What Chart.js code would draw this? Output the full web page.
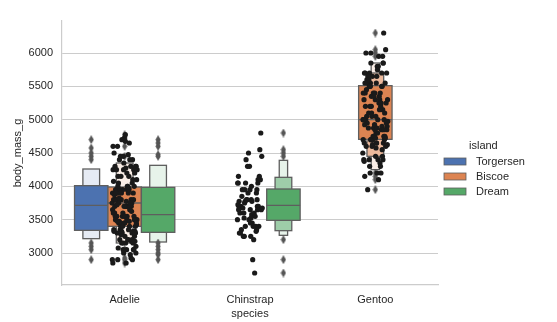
<!DOCTYPE html>
<html>
<head>
<meta charset="utf-8">
<script src="https://cdn.jsdelivr.net/npm/chart.js@4.4.1/dist/chart.umd.min.js"></script>
<style>
  html, body { margin: 0; padding: 0; background: #fff; }
  #wrap { width: 557px; height: 322px; }
</style>
</head>
<body>
<div id="wrap"><canvas id="chart" width="557" height="322"></canvas></div>
<script>
const species = ["Adelie", "Chinstrap", "Gentoo"];
const islands = ["Torgersen", "Biscoe", "Dream"];
const islandColors = ["#4c72b0", "#dd8452", "#55a868"];
const yTicks = [3000, 3500, 4000, 4500, 5000, 5500, 6000];

// body mass of every penguin, by species (strip points)
const adelieMass = [3750, 3800, 3250, 3450, 3650, 3625, 4675, 3475, 4250, 3300, 3700, 3200, 3800, 4400, 3700, 3450, 4500, 3325, 4200,
  3400, 3600, 3800, 3950, 3800, 3800, 3550, 3200, 3150, 3950, 3250, 3900, 3300, 3900, 3325, 4150, 3950, 3550, 3300, 4650,
  3150, 3900, 3100, 4400, 3000, 4600, 3425, 2975, 3450, 4150, 3500, 4300, 3450, 4050, 2900, 3700, 3550, 3800, 2850, 3750,
  3150, 4400, 3600, 4050, 2850, 3950, 3350, 4100, 3050, 4450, 3600, 3900, 3550, 4150, 3700, 4250, 3700, 3900, 3550, 4000,
  3200, 4700, 3800, 4200, 3350, 3550, 3800, 3500, 3950, 3600, 3550, 4300, 3400, 4450, 3300, 4300, 3700, 4350, 2900, 4100,
  3725, 4725, 3075, 4250, 2925, 3550, 3750, 3900, 3175, 4775, 3825, 4600, 3200, 4275, 3900, 4075, 2900, 3775, 3350, 3325,
  3150, 3500, 3450, 3875, 3050, 4000, 3275, 4300, 3050, 4000, 3325, 3500, 3500, 4475, 3425, 3900, 3175, 3975, 3400, 4250,
  3400, 3475, 3050, 3725, 3000, 3650, 4250, 3475, 3450, 3750, 3700, 4000];
const chinstrapMass = [3500, 3900, 3650, 3525, 3725, 3950, 3250, 3750, 4150, 3700, 3800, 3775, 3700, 4050, 3575, 4050, 3300,
  3700, 3450, 4400, 3600, 3400, 2900, 3800, 3300, 4150, 3400, 3800, 3700, 4550, 3200, 4300, 3350, 4100, 3600, 3900, 3850,
  4800, 2700, 4500, 3950, 3650, 3550, 3500, 3675, 4450, 3400, 4300, 3250, 3675, 3325, 3950, 3600, 4050, 3350, 3450, 3250,
  4050, 3800, 3525, 3950, 3650, 3650, 4000, 3400, 3775, 4100, 3775];
const gentooMass = [4500, 5700, 4450, 5700, 5400, 4550, 4800, 5200, 4400, 5150, 4650, 5550, 4650, 5850, 4200, 5850, 4150, 6300,
  4800, 5350, 5700, 5000, 4400, 5050, 5000, 5100, 4100, 5650, 4600, 5550, 5250, 4700, 5050, 6050, 5150, 5400, 4950, 5250,
  4350, 5350, 3950, 5700, 4300, 4750, 5550, 4900, 4200, 5400, 5100, 5300, 4850, 5300, 4400, 5000, 4900, 5050, 4300, 5000,
  4450, 5550, 4200, 5300, 4400, 5650, 4700, 5700, 4650, 5800, 4700, 5550, 4750, 5000, 5100, 5200, 4700, 5800, 4600, 6000,
  4750, 5950, 4625, 5450, 4725, 5350, 4750, 5600, 4600, 5300, 4875, 5550, 4950, 5400, 4750, 5650, 4850, 5200, 4925, 4875,
  4625, 5250, 4850, 5600, 4975, 5500, 4725, 5500, 4700, 5500, 4575, 5500, 5000, 5950, 4650, 5500, 4375, 5850, 4875, 6000,
  4925, 4850, 5750, 5200, 5400];

// letter-value boxes: [low, high] from the inner box outwards
const adelieTorgersenLevels = [[3340, 4010], [3215, 4260]];
const adelieBiscoeLevels = [[3400, 3990], [3150, 4350]];
const adelieDreamLevels = [[3310, 3985], [3165, 4315]];
const chinstrapDreamLevels = [[3490, 3960], [3335, 4135], [3265, 4390]];
const gentooBiscoeLevels = [[4705, 5510], [4450, 5700], [4250, 5850]];

const boxMedians = [3715, 3750, 3575, 3715, 5000];

// outliers (diamonds)
const adelieTorgersenOut = [4700, 4575, 4500, 4450, 4400, 3150, 3100, 3050, 2900];
const adelieBiscoeOut = [4775, 4725, 4600, 4450, 3050, 2925, 2900, 2850];
const adelieDreamOut = [4700, 4650, 4600, 4475, 4450, 3150, 3100, 3050, 3000, 2975, 2900];
const chinstrapDreamOut = [4800, 4550, 4500, 4450, 3200, 2900, 2700];
const gentooBiscoeOut = [6300, 6050, 6000, 5950, 4200, 4150, 4100, 3950];

const boxWidth = 0.8 / 3;
const hueOffset = [-boxWidth, 0, boxWidth];

const boxes = [
  { sp: 0, isl: 0, levels: adelieTorgersenLevels, median: boxMedians[0], out: adelieTorgersenOut },
  { sp: 0, isl: 1, levels: adelieBiscoeLevels, median: boxMedians[1], out: adelieBiscoeOut },
  { sp: 0, isl: 2, levels: adelieDreamLevels, median: boxMedians[2], out: adelieDreamOut },
  { sp: 1, isl: 2, levels: chinstrapDreamLevels, median: boxMedians[3], out: chinstrapDreamOut },
  { sp: 2, isl: 1, levels: gentooBiscoeLevels, median: boxMedians[4], out: gentooBiscoeOut },
];

const edgeColor = "#5e5e5e";
const textColor = "#262626";
const font = "'Liberation Sans', Arial, sans-serif";

function tint(hex, t) {
  const n = parseInt(hex.slice(1), 16);
  const c = [(n >> 16) & 255, (n >> 8) & 255, n & 255].map(v => Math.round(v + (255 - v) * t));
  return `rgb(${c[0]},${c[1]},${c[2]})`;
}

// spread the strip points sideways, same as a stripplot's jitter
const jitter = i => (((i * 0.7548776662) % 1) * 2 - 1) * 0.1;

// thin diamond marker
const diamond = document.createElement("canvas");
diamond.width = 6; diamond.height = 9;
(function () {
  const g = diamond.getContext("2d");
  g.fillStyle = "#555555";
  g.beginPath();
  g.moveTo(3, 0); g.lineTo(5.6, 4.5); g.lineTo(3, 9); g.lineTo(0.4, 4.5);
  g.closePath(); g.fill();
})();

const stripSets = [adelieMass, chinstrapMass, gentooMass].map((vals, s) => ({
  data: vals.map((v, i) => ({ x: s + jitter(i), y: v })),
  backgroundColor: "#1a1a1a",
  borderWidth: 0,
  pointRadius: 2.6,
  order: 0,
}));

const outlierSets = boxes.map(b => ({
  data: b.out.map(v => ({ x: b.sp + hueOffset[b.isl], y: v })),
  pointStyle: diamond,
  order: 1,
}));

const boxenPlugin = {
  id: "boxen",
  beforeDatasetsDraw(chart) {
    const { ctx, scales: { x, y } } = chart;
    ctx.save();
    ctx.strokeStyle = edgeColor;
    ctx.lineWidth = 1.3;
    boxes.forEach(b => {
      const cx = b.sp + hueOffset[b.isl];
      const k = b.levels.length;
      for (let i = k - 1; i >= 0; i--) {
        const half = boxWidth / 2 * Math.pow(0.5, i);
        const x0 = x.getPixelForValue(cx - half);
        const x1 = x.getPixelForValue(cx + half);
        const y0 = y.getPixelForValue(b.levels[i][1]);
        const y1 = y.getPixelForValue(b.levels[i][0]);
        ctx.fillStyle = tint(islandColors[b.isl], k > 1 ? 0.86 * i / (k - 1) : 0);
        ctx.fillRect(x0, y0, x1 - x0, y1 - y0);
        ctx.strokeRect(x0, y0, x1 - x0, y1 - y0);
      }
      const ym = y.getPixelForValue(b.median);
      ctx.beginPath();
      ctx.moveTo(x.getPixelForValue(cx - boxWidth / 2), ym);
      ctx.lineTo(x.getPixelForValue(cx + boxWidth / 2), ym);
      ctx.stroke();
    });
    ctx.restore();
  },
  afterDraw(chart) {
    const ctx = chart.ctx;
    ctx.save();
    ctx.fillStyle = textColor;
    ctx.textBaseline = "middle";
    ctx.font = `11px ${font}`;
    ctx.fillText("island", 469, 146);
    islands.forEach((name, i) => {
      const yc = 161.5 + i * 15;
      ctx.fillStyle = islandColors[i];
      ctx.fillRect(444, yc - 3.5, 22, 7);
      ctx.strokeStyle = edgeColor;
      ctx.lineWidth = 0.8;
      ctx.strokeRect(444, yc - 3.5, 22, 7);
      ctx.fillStyle = textColor;
      ctx.fillText(name, 476, yc);
    });
    ctx.restore();
  }
};

new Chart(document.getElementById("chart"), {
  type: "scatter",
  data: { datasets: [...stripSets, ...outlierSets] },
  plugins: [boxenPlugin],
  options: {
    responsive: false,
    animation: false,
    layout: { padding: { left: 0, top: 21, right: 119, bottom: 0 } },
    plugins: { legend: { display: false }, tooltip: { enabled: false } },
    scales: {
      x: {
        type: "linear",
        min: -0.5,
        max: 2.5,
        afterBuildTicks: scale => { scale.ticks = species.map((s, i) => ({ value: i })); },
        afterFit: scale => { scale.height = 37; },
        ticks: {
          callback: v => species[v],
          color: textColor,
          font: { family: font, size: 11 },
          padding: 8,
          autoSkip: false,
          maxRotation: 0,
        },
        grid: { display: false, drawTicks: false },
        border: { color: "#cccccc", width: 1.2 },
        title: {
          display: true,
          text: "species",
          color: textColor,
          font: { family: font, size: 11 },
          padding: { top: 0, bottom: 1 },
        },
      },
      y: {
        min: 2520,
        max: 6480,
        afterBuildTicks: scale => { scale.ticks = yTicks.map(v => ({ value: v })); },
        afterFit: scale => { scale.width = 62; },
        ticks: {
          callback: v => String(v),
          color: textColor,
          font: { family: font, size: 11 },
          padding: 9,
        },
        grid: { color: "#cccccc", lineWidth: 1, drawTicks: false },
        border: { color: "#cccccc", width: 1.2 },
        title: {
          display: true,
          text: "body_mass_g",
          color: textColor,
          font: { family: font, size: 11 },
          padding: { top: 11, bottom: 0 },
        },
      },
    },
  },
});
</script>
</body>
</html>
